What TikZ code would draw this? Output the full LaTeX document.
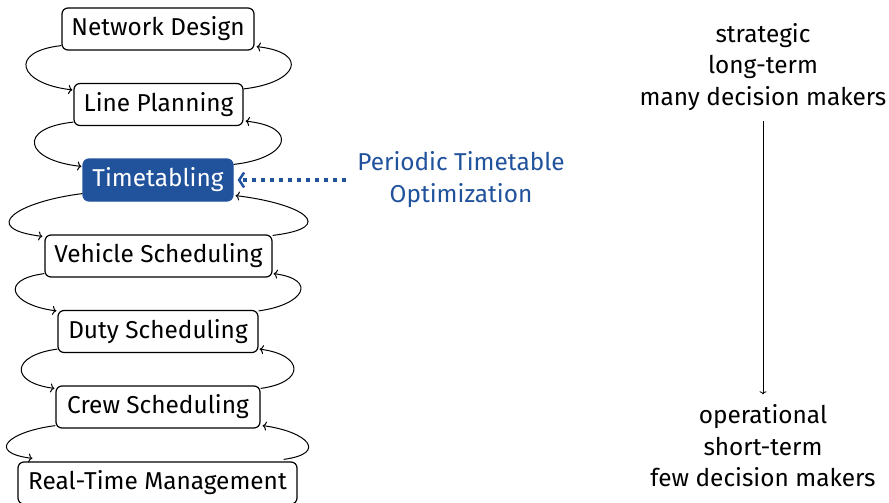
\documentclass[tikz,border=0pt]{standalone}
\usepackage{fontspec}
\setmainfont{Fira Sans}
\usetikzlibrary{arrows.meta}
\definecolor{tblue}{RGB}{33,82,156}
\begin{document}
\begin{tikzpicture}[x=1pt,y=-1pt,
  every node/.style={font=\fontsize{24.4}{31.5}\selectfont},
  stage/.style={draw=black, line width=1.2pt, rounded corners=6pt, inner sep=0pt,
    minimum height=42pt, fill=white, text height=17pt, text depth=4pt},
  cycarrow/.style={draw=black, line width=1pt, -{To[length=4pt,width=9pt]}},
]
\useasboundingbox (0,0) rectangle (889,503);
\clip (0,0) rectangle (889,503);

% planning stages
\node[stage, minimum width=192pt] (nd) at (158,29) {Network Design};
\node[stage, minimum width=169pt] (lp) at (158.5,104.5) {Line Planning};
\node[stage, minimum width=150pt, fill=tblue, draw=tblue, text=white] (tt) at (158,180) {Timetabling};
\node[stage, minimum width=227pt] (vs) at (158.5,256) {Vehicle Scheduling};
\node[stage, minimum width=200pt] (ds) at (158,331.5) {Duty Scheduling};
\node[stage, minimum width=204pt] (cs) at (158,407) {Crew Scheduling};
\node[stage, minimum width=279pt] (rt) at (157.5,483) {Real-Time Management};

% feedback loops, left side (downwards)
\draw[cycarrow] ([yshift=5pt]nd.south west) .. controls +(-54,6) and +(-54,-6) .. ([xshift=-1pt,yshift=-7pt]lp.north west);
\draw[cycarrow] ([yshift=4pt]lp.south west) .. controls +(-57,6) and +(-57,-6) .. ([xshift=-1pt,yshift=-8pt]tt.north west);
\draw[cycarrow] ([yshift=8pt]tt.south west) .. controls +(-65,8) and +(-65,-8) .. ([xshift=-2pt,yshift=-2pt]vs.north west);
\draw[cycarrow] ([yshift=4pt]vs.south west) .. controls +(-46,6) and +(-46,-6) .. ([xshift=-1pt,yshift=-1pt]ds.north west);
\draw[cycarrow] ([yshift=4pt]ds.south west) .. controls +(-46,6) and +(-46,-6) .. ([xshift=-1pt,yshift=-3pt]cs.north west);
\draw[cycarrow] ([yshift=3pt]cs.south west) .. controls +(-47,6) and +(-47,-6) .. ([xshift=15pt,yshift=3pt]rt.north west);

% feedback loops, right side (upwards)
\draw[cycarrow] ([yshift=-6pt]lp.north east) .. controls +(54,-6) and +(54,6) .. ([xshift=2pt,yshift=4pt]nd.south east);
\draw[cycarrow] ([yshift=-6pt]tt.north east) .. controls +(55,-6) and +(55,6) .. ([xshift=2pt,yshift=5pt]lp.south east);
\draw[cycarrow] ([yshift=-1pt]vs.north east) .. controls +(67,-8) and +(67,8) .. ([xshift=2pt,yshift=6pt]tt.south east);
\draw[cycarrow] ([yshift=-1pt]ds.north east) .. controls +(45,-6) and +(45,6) .. ([xshift=1pt,yshift=4pt]vs.south east);
\draw[cycarrow] ([yshift=-3pt]cs.north east) .. controls +(45,-6) and +(45,6) .. ([xshift=1pt,yshift=4pt]ds.south east);
\draw[cycarrow] ([xshift=-14pt,yshift=2pt]rt.north east) .. controls +(45,-6) and +(45,6) .. ([xshift=2pt,yshift=3pt]cs.south east);

% periodic timetabling label
\node[text=tblue, align=center] (pto) at (461,179.5) {Periodic Timetable\\Optimization};
\path (pto.west |- tt.east) coordinate (ptoline);
\draw[tblue, line width=3.5pt, dash pattern=on 3.5pt off 5.5pt,
  -{Straight Barb[length=5pt,width=15pt,line width=2.5pt]}]
  ([xshift=-8pt]ptoline) -- ([xshift=4pt]tt.east);

% planning horizon
\node[align=center] (hi) at (763,67) {strategic\\long-term\\many decision makers};
\node[align=center] (lo) at (763,446) {operational\\short-term\\few decision makers};
\draw[line width=0.8pt, -{To[length=3pt,width=7pt]}] ([yshift=-7pt]hi.south) -- ([yshift=7pt]lo.north);
\end{tikzpicture}
\end{document}
